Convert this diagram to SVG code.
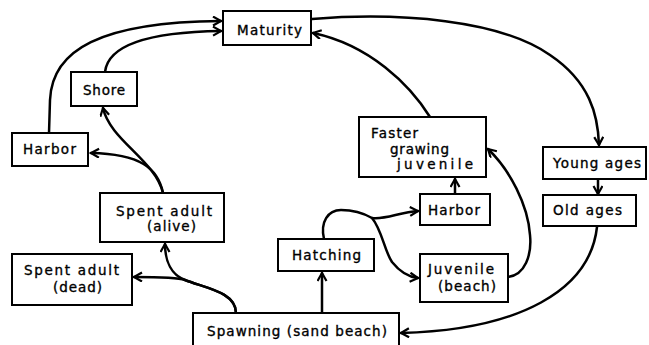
<svg xmlns="http://www.w3.org/2000/svg" width="649" height="345" viewBox="0 0 649 345">
<style>
.box{fill:#fff;stroke:#000;stroke-width:2}
.t{font-family:"DejaVu Sans",sans-serif;font-size:13.5px;fill:#000;stroke:#000;stroke-width:0.35;letter-spacing:1px}
.c{fill:none;stroke:#000;stroke-width:2.5;stroke-linecap:round}
</style>
<defs>
<marker id="ar" markerWidth="12" markerHeight="12" refX="9" refY="5" orient="auto" markerUnits="userSpaceOnUse">
<path d="M1,0.5 L9,5 L1,9.5" fill="none" stroke="#000" stroke-width="2.2" stroke-linejoin="miter"/>
</marker>
</defs>
<rect width="649" height="345" fill="#fff"/>
<g id="connectors">
<path class="c" d="M49,133 L50,100 C52,50 100,22 221,21" marker-end="url(#ar)"/>
<path class="c" d="M105,72 C108,45 150,32 221,31" marker-end="url(#ar)"/>
<path class="c" d="M163,193 C158,168 140,154 91,153" marker-end="url(#ar)"/>
<path class="c" d="M163,193 C155,160 110,140 103,108" marker-end="url(#ar)"/>
<path class="c" d="M236,313 C236,292 205,288 185,280 C180,278 160,277 134,277" marker-end="url(#ar)"/>
<path class="c" d="M236,313 C236,292 205,288 185,280 C172,275 165,262 165,244" marker-end="url(#ar)"/>
<path class="c" d="M322,313 L322,273" marker-end="url(#ar)"/>
<path class="c" d="M324,239 C320,222 328,210 341,210 C355,210 365,214 372,218 C385,220 400,212 418,211" marker-end="url(#ar)"/>
<path class="c" d="M372,218 C382,230 384,250 392,262 C400,272 408,277 418,278" marker-end="url(#ar)"/>
<path class="c" d="M455,194 L455,179" marker-end="url(#ar)"/>
<path class="c" d="M508,277 C525,275 532,255 530,235 C528,205 510,170 488,149" marker-end="url(#ar)"/>
<path class="c" d="M430,117 C410,85 370,45 313,33" marker-end="url(#ar)"/>
<path class="c" d="M312,19 C400,12 500,20 550,55 C590,82 598,115 599,145" marker-end="url(#ar)"/>
<path class="c" d="M598,179 L598,194" marker-end="url(#ar)"/>
<path class="c" d="M597,227 C590,290 520,330 401,333" marker-end="url(#ar)"/>
</g>
<g id="maturity"><rect class="box" x="223" y="11" width="88" height="34"/><text class="t" x="237" y="35" textLength="66">Maturity</text></g>
<g id="shore"><rect class="box" x="71" y="72" width="66" height="34"/><text class="t" x="83" y="95" textLength="43">Shore</text></g>
<g id="harbor-left"><rect class="box" x="12" y="133" width="76" height="33"/><text class="t" x="23" y="154" textLength="54">Harbor</text></g>
<g id="spent-alive"><rect class="box" x="100" y="193" width="124" height="49"/><text class="t" x="116" y="216" textLength="97">Spent adult</text><text class="t" x="147" y="231" textLength="50">(alive)</text></g>
<g id="spent-dead"><rect class="box" x="12" y="254" width="120" height="51"/><text class="t" x="24" y="275" textLength="96">Spent adult</text><text class="t" x="53" y="292" textLength="50">(dead)</text></g>
<g id="hatching"><rect class="box" x="278" y="239" width="96" height="32"/><text class="t" x="292" y="260" textLength="70">Hatching</text></g>
<g id="spawning"><rect class="box" x="193" y="313" width="206" height="40"/><text class="t" x="207" y="336" textLength="181">Spawning (sand beach)</text></g>
<g id="harbor-right"><rect class="box" x="420" y="194" width="70" height="31"/><text class="t" x="428" y="215" textLength="53">Harbor</text></g>
<g id="juvenile"><rect class="box" x="420" y="254" width="88" height="48"/><text class="t" x="428" y="274" textLength="67">Juvenile</text><text class="t" x="438" y="291" textLength="59">(beach)</text></g>
<g id="faster"><rect class="box" x="359" y="117" width="127" height="60"/><text class="t" x="371" y="138" textLength="48">Faster</text><text class="t" x="390" y="154" textLength="60">grawing</text><text class="t" x="397" y="169" textLength="77">juvenile</text></g>
<g id="young"><rect class="box" x="543" y="147" width="103" height="32"/><text class="t" x="553" y="168" textLength="89">Young ages</text></g>
<g id="old"><rect class="box" x="543" y="195" width="93" height="31"/><text class="t" x="553" y="215" textLength="70">Old ages</text></g>
</svg>
